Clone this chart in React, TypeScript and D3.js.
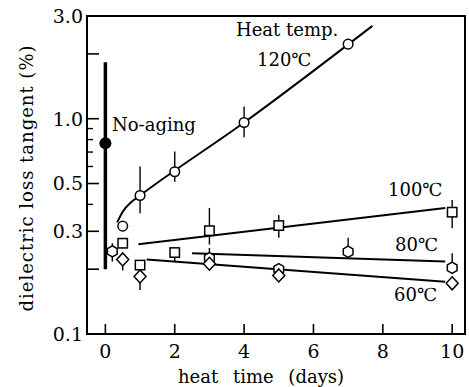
import * as d3 from "d3";
import { useEffect, useRef } from "react";

// heat time (days) and dielectric loss tangent (%)
const days120 = [0.5, 1, 2, 4, 7];
const tan120 = [0.317, 0.44, 0.567, 0.96, 2.22];
const lo120 = [0.317, 0.364, 0.51, 0.82, 2.22];
const hi120 = [0.317, 0.6, 0.705, 1.14, 2.22];

const days100 = [0.5, 1, 2, 3, 5, 10];
const tan100 = [0.264, 0.209, 0.239, 0.302, 0.319, 0.368];
const lo100 = [0.25, 0.209, 0.218, 0.26, 0.28, 0.31];
const hi100 = [0.264, 0.209, 0.239, 0.385, 0.357, 0.419];

const days80 = [0.2, 3, 5, 7, 10];
const tan80 = [0.242, 0.225, 0.2, 0.241, 0.203];
const lo80 = [0.217, 0.225, 0.2, 0.241, 0.203];
const hi80 = [0.264, 0.251, 0.2, 0.28, 0.237];

const days60 = [0.5, 1, 3, 5, 10];
const tan60 = [0.222, 0.185, 0.212, 0.187, 0.172];
const lo60 = [0.197, 0.16, 0.212, 0.187, 0.172];
const hi60 = [0.222, 0.185, 0.212, 0.187, 0.172];

// hand-drawn fit lines
const fitDays120 = [0.34, 0.5, 0.75, 1, 4, 7.7];
const fitTan120 = [0.33, 0.37, 0.41, 0.44, 0.96, 2.7];
const fitDays100 = [0.95, 9.8];
const fitTan100 = [0.261, 0.385];
const fitDays80 = [2.5, 9.8];
const fitTan80 = [0.237, 0.217];
const fitDays60 = [1.19, 9.8];
const fitTan60 = [0.222, 0.175];

// no-aging reference
const noAgingDay = 0;
const noAgingTan = 0.77;
const noAgingRange = [0.2, 1.83];

const xTicks = [0, 2, 4, 6, 8, 10];
const yLabelTicks = [3.0, 1.0, 0.5, 0.3, 0.1];
const yMajorTicks = [2.0, 1.0, 0.5, 0.3, 0.2];
const yMinorTicks = [0.9, 0.8, 0.7, 0.6, 0.4];

const FONT = "'DejaVu Serif', serif";

type Pt = { x: number; v: number; lo: number; hi: number };

const zip = (xs: number[], vs: number[], los: number[], his: number[]): Pt[] =>
    xs.map((x, i) => ({ x, v: vs[i], lo: los[i], hi: his[i] }));

export default function App() {
    const svgRef = useRef<SVGSVGElement | null>(null);

    useEffect(() => {
        if (!svgRef.current) return;
        document.body.style.margin = "0";
        const svg = d3.select(svgRef.current);
        svg.selectAll("*").remove();

        const width = 469;
        const height = 387;
        const left = 87, right = 465, top = 16, bottom = 334;

        svg.attr("width", width).attr("height", height);

        const x = d3.scaleLinear().domain([-0.53, 10.37]).range([left, right]);
        const y = d3.scaleLog().domain([0.1, 3.0]).range([bottom, top]);

        // frame
        svg.append("rect")
            .attr("x", left).attr("y", top)
            .attr("width", right - left).attr("height", bottom - top)
            .attr("fill", "none").attr("stroke", "#000").attr("stroke-width", 2);

        // x ticks
        svg.selectAll(".xt").data(xTicks).enter().append("line")
            .attr("x1", (d) => x(d)).attr("x2", (d) => x(d))
            .attr("y1", bottom).attr("y2", bottom - 10)
            .attr("stroke", "#000").attr("stroke-width", 1.6);
        svg.selectAll(".xl").data(xTicks).enter().append("text")
            .attr("x", (d) => x(d)).attr("y", 358)
            .attr("text-anchor", "middle")
            .style("font-family", FONT).style("font-size", "19px")
            .text((d) => d);

        // y ticks
        svg.selectAll(".ymaj").data(yMajorTicks).enter().append("line")
            .attr("x1", left).attr("x2", left + 12)
            .attr("y1", (d) => y(d)).attr("y2", (d) => y(d))
            .attr("stroke", "#000").attr("stroke-width", 1.6);
        svg.selectAll(".ymin").data(yMinorTicks).enter().append("line")
            .attr("x1", left).attr("x2", left + 6)
            .attr("y1", (d) => y(d)).attr("y2", (d) => y(d))
            .attr("stroke", "#000").attr("stroke-width", 1.4);
        svg.selectAll(".yl").data(yLabelTicks).enter().append("text")
            .attr("x", 83).attr("y", (d) => y(d))
            .attr("dy", "0.36em")
            .attr("text-anchor", "end")
            .style("font-family", FONT).style("font-size", "19px")
            .text((d) => d3.format(".1f")(d));

        // axis titles
        svg.append("text")
            .attr("transform", "translate(33,178) rotate(-90)")
            .attr("text-anchor", "middle")
            .style("font-family", FONT).style("font-size", "18px")
            .style("letter-spacing", "1px")
            .text("dielectric loss tangent (%)");
        svg.append("text")
            .attr("x", 178).attr("y", 383)
            .style("font-family", FONT).style("font-size", "18px")
            .style("word-spacing", "9px")
            .text("heat time (days)");

        // no-aging bar and point
        svg.append("line")
            .attr("x1", x(noAgingDay)).attr("x2", x(noAgingDay))
            .attr("y1", y(noAgingRange[0])).attr("y2", y(noAgingRange[1]))
            .attr("stroke", "#000").attr("stroke-width", 3.5);
        svg.append("circle")
            .attr("cx", x(noAgingDay)).attr("cy", y(noAgingTan))
            .attr("r", 6).attr("fill", "#000");

        // fit lines
        const line = d3.line<[number, number]>()
            .x((d) => x(d[0])).y((d) => y(d[1]))
            .curve(d3.curveMonotoneX);
        const fits: [number[], number[]][] = [
            [fitDays120, fitTan120],
            [fitDays100, fitTan100],
            [fitDays80, fitTan80],
            [fitDays60, fitTan60],
        ];
        fits.forEach(([xs, vs]) => {
            svg.append("path")
                .datum(xs.map((d, i) => [d, vs[i]] as [number, number]))
                .attr("d", line)
                .attr("fill", "none").attr("stroke", "#000").attr("stroke-width", 2);
        });

        // error bars + markers
        const drawSeries = (pts: Pt[], shape: (g: d3.Selection<SVGGElement, Pt, any, any>) => void) => {
            const g = svg.append("g");
            g.selectAll("line").data(pts.filter((p) => p.hi > p.lo)).enter().append("line")
                .attr("x1", (p) => x(p.x)).attr("x2", (p) => x(p.x))
                .attr("y1", (p) => y(p.lo)).attr("y2", (p) => y(p.hi))
                .attr("stroke", "#000").attr("stroke-width", 1.4);
            const m = g.selectAll("g.m").data(pts).enter().append("g")
                .attr("transform", (p) => `translate(${x(p.x)},${y(p.v)})`);
            shape(m as any);
        };

        const stroke = (s: any) => s.attr("fill", "#fff").attr("stroke", "#000").attr("stroke-width", 1.5);

        drawSeries(zip(days120, tan120, lo120, hi120), (m) => {
            stroke(m.append("circle").attr("r", 4.8));
        });
        drawSeries(zip(days100, tan100, lo100, hi100), (m) => {
            stroke(m.append("rect").attr("x", -4.7).attr("y", -4.7).attr("width", 9.4).attr("height", 9.4));
        });
        const hex = d3.range(6).map((i) => {
            const a = (Math.PI / 3) * i - Math.PI / 2;
            return [5.6 * Math.cos(a), 5.6 * Math.sin(a)];
        });
        drawSeries(zip(days80, tan80, lo80, hi80), (m) => {
            stroke(m.append("path").attr("d", "M" + hex.map((p) => p.join(",")).join("L") + "Z"));
        });
        drawSeries(zip(days60, tan60, lo60, hi60), (m) => {
            stroke(m.append("path").attr("d", "M0,-6.5L6,0L0,6.5L-6,0Z"));
        });

        // labels
        const label = (tx: number, ty: number, s: string, size = 18) =>
            svg.append("text").attr("x", tx).attr("y", ty)
                .style("font-family", FONT).style("font-size", `${size}px`).text(s);
        label(112, 131, "No-aging");
        label(236, 36, "Heat temp.");
        label(257, 66, "120℃");
        label(388, 196, "100℃");
        label(395, 251, "80℃");
        label(394, 301, "60℃");
    }, []);

    return <svg ref={svgRef} />;
}
